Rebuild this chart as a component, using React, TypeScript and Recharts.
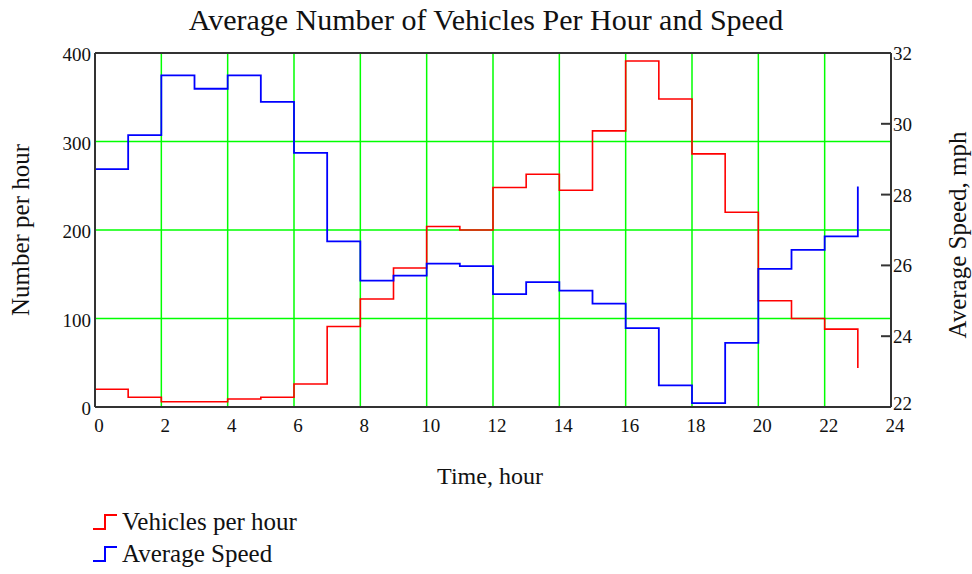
import {
  LineChart,
  Line,
  XAxis,
  YAxis,
  CartesianGrid,
  ReferenceLine,
} from "recharts";

const hours = [
  0, 1, 2, 3, 4, 5, 6, 7, 8, 9, 10, 11, 12, 13, 14, 15, 16, 17, 18, 19, 20, 21,
  22, 23,
];

const vehiclesPerHour = [
  20, 11, 6, 6, 9, 11, 26, 91, 122, 157, 204, 200, 248, 263, 245, 312, 391, 348,
  286, 220, 120, 100, 88, 44,
];

const averageSpeed = [
  28.72, 29.68, 31.37, 30.99, 31.37, 30.62, 29.18, 26.68, 25.57, 25.71, 26.05,
  25.98, 25.19, 25.53, 25.29, 24.92, 24.23, 22.61, 22.11, 23.81, 25.9, 26.44,
  26.82, 28.23,
];

const hourTicks = [0, 2, 4, 6, 8, 10, 12, 14, 16, 18, 20, 22, 24];
const vehicleTicks = [0, 100, 200, 300, 400];
const speedTicks = [22, 24, 26, 28, 30, 32];

const FONT = "'Liberation Serif', 'Times New Roman', serif";
const TEXT = "#111";
const AXIS = "#333";

const data = hours.map((hour, i) => ({
  hour,
  vehicles: vehiclesPerHour[i],
  speed: averageSpeed[i],
}));

const LeftTick = (props: any) => {
  const { x, y, payload } = props;
  return (
    <text
      x={x}
      y={y + 8}
      textAnchor="end"
      fontSize={19}
      fontFamily={FONT}
      fill={TEXT}
    >
      {payload.value}
    </text>
  );
};

const RightTick = (props: any) => {
  const { x, y, payload } = props;
  // bottom label sits a bit higher so it doesn't run into the x-axis "24"
  const dy = payload.value === speedTicks[0] ? 3 : 7;
  return (
    <g>
      <line x1={x - 10} y1={y} x2={x} y2={y} stroke={AXIS} strokeWidth={2} />
      <text
        x={x + 2}
        y={y + dy}
        textAnchor="start"
        fontSize={19}
        fontFamily={FONT}
        fill={TEXT}
      >
        {payload.value}
      </text>
    </g>
  );
};

const BottomTick = (props: any) => {
  const { x, y, payload } = props;
  return (
    <text
      x={x + 4}
      y={y + 25}
      textAnchor="middle"
      fontSize={19}
      fontFamily={FONT}
      fill={TEXT}
    >
      {payload.value}
    </text>
  );
};

const StepIcon = ({ color }: { color: string }) => (
  <svg width={26} height={18} style={{ marginRight: 4 }}>
    <polyline
      points="1,16 13,16 13,2 25,2"
      fill="none"
      stroke={color}
      strokeWidth={2}
    />
  </svg>
);

const App = () => {
  return (
    <div
      style={{
        position: "absolute",
        left: 0,
        top: 0,
        width: 972,
        height: 574,
        background: "#fff",
        fontFamily: FONT,
        color: TEXT,
      }}
    >
      <div
        style={{
          position: "absolute",
          left: 0,
          width: 972,
          top: 2,
          textAlign: "center",
          fontSize: 30,
          lineHeight: "36px",
        }}
      >
        Average Number of Vehicles Per Hour and Speed
      </div>

      <LineChart
        width={972}
        height={574}
        data={data}
        margin={{ top: 53, right: 41, bottom: 137, left: 55 }}
      >
        <CartesianGrid
          yAxisId="left"
          stroke="#00ff00"
          strokeWidth={1.5}
        />
        <XAxis
          dataKey="hour"
          type="number"
          domain={[0, 24]}
          ticks={hourTicks}
          height={30}
          tickLine={false}
          tickSize={0}
          tickMargin={0}
          axisLine={{ stroke: AXIS, strokeWidth: 2 }}
          tick={<BottomTick />}
        />
        <YAxis
          yAxisId="left"
          domain={[0, 400]}
          ticks={vehicleTicks}
          width={40}
          tickLine={false}
          tickSize={0}
          tickMargin={4}
          axisLine={{ stroke: AXIS, strokeWidth: 2 }}
          tick={<LeftTick />}
        />
        <YAxis
          yAxisId="right"
          orientation="right"
          domain={[22, 32]}
          ticks={speedTicks}
          width={40}
          tickLine={false}
          tickSize={0}
          tickMargin={0}
          axisLine={{ stroke: AXIS, strokeWidth: 2 }}
          tick={<RightTick />}
        />
        <ReferenceLine
          yAxisId="left"
          y={400}
          stroke={AXIS}
          strokeWidth={2}
        />
        <Line
          yAxisId="left"
          type="stepAfter"
          dataKey="vehicles"
          stroke="#ff0000"
          strokeWidth={1.6}
          dot={false}
          isAnimationActive={false}
        />
        <Line
          yAxisId="right"
          type="stepAfter"
          dataKey="speed"
          stroke="#0000ff"
          strokeWidth={1.8}
          dot={false}
          isAnimationActive={false}
        />
      </LineChart>

      <div
        style={{
          position: "absolute",
          left: 21,
          top: 230,
          transform: "translate(-50%, -50%) rotate(-90deg)",
          fontSize: 25,
          whiteSpace: "nowrap",
        }}
      >
        Number per hour
      </div>
      <div
        style={{
          position: "absolute",
          left: 958,
          top: 235,
          transform: "translate(-50%, -50%) rotate(-90deg)",
          fontSize: 25,
          whiteSpace: "nowrap",
        }}
      >
        Average Speed, mph
      </div>
      <div
        style={{
          position: "absolute",
          left: 490,
          top: 476,
          transform: "translate(-50%, -50%)",
          fontSize: 24,
          whiteSpace: "nowrap",
        }}
      >
        Time, hour
      </div>

      <div
        style={{
          position: "absolute",
          left: 92,
          top: 506,
          fontSize: 25,
          lineHeight: "32px",
        }}
      >
        <div style={{ display: "flex", alignItems: "center" }}>
          <StepIcon color="#ff0000" />
          Vehicles per hour
        </div>
        <div style={{ display: "flex", alignItems: "center" }}>
          <StepIcon color="#0000ff" />
          Average Speed
        </div>
      </div>
    </div>
  );
};

export default App;
